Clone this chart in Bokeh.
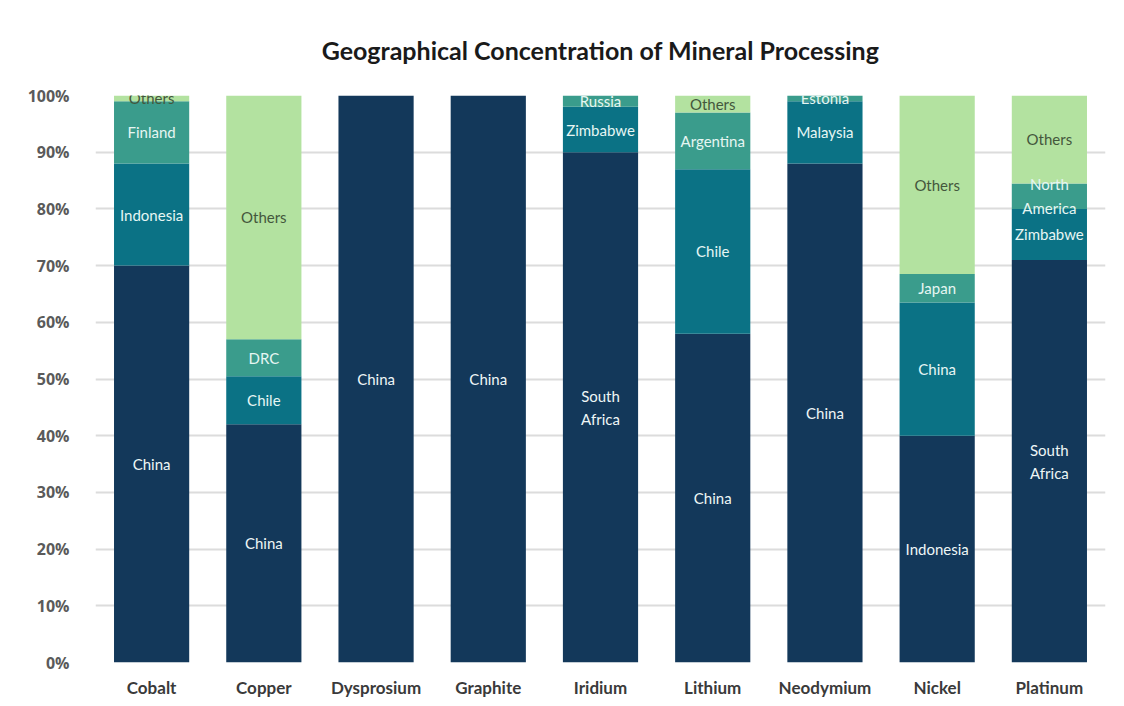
from bokeh.plotting import figure
from bokeh.models import ColumnDataSource, FactorRange, Range1d, SingleIntervalTicker, PrintfTickFormatter
from bokeh.core.properties import value
from bokeh.embed import file_html
from bokeh.resources import INLINE

minerals = ["Cobalt", "Copper", "Dysprosium", "Graphite", "Iridium",
            "Lithium", "Neodymium", "Nickel", "Platinum"]

level1_names = ["China", "China", "China", "China", "South\nAfrica", "China", "China", "Indonesia", "South\nAfrica"]
level1_vals = [70, 42, 100, 100, 90, 58, 88, 40, 71]

level2_names = ["Indonesia", "Chile", "", "", "Zimbabwe", "Chile", "Malaysia", "China", "Zimbabwe"]
level2_vals = [18, 8.5, 0, 0, 8, 29, 11, 23.5, 9]

level3_names = ["Finland", "DRC", "", "", "Russia", "Argentina", "Estonia", "Japan", "North\nAmerica"]
level3_vals = [11, 6.5, 0, 0, 2, 10, 1, 5, 4.5]

level4_names = ["Others", "Others", "", "", "", "Others", "", "Others", "Others"]
level4_vals = [1, 43, 0, 0, 0, 3, 0, 31.5, 15.5]

levels = ["l1", "l2", "l3", "l4"]
colors = ["#13385a", "#0b7285", "#3a9c8c", "#b3e2a0"]
text_colors = ["#eef6f6", "#e6f6f4", "#e6f6f2", "#44573c"]

names_all = [level1_names, level2_names, level3_names, level4_names]
vals_all = [level1_vals, level2_vals, level3_vals, level4_vals]

source = ColumnDataSource(dict(mineral=minerals, l1=level1_vals, l2=level2_vals,
                               l3=level3_vals, l4=level4_vals))

p = figure(width=1124, height=706, x_range=FactorRange(*minerals), y_range=Range1d(0, 100),
           output_backend="svg", toolbar_location=None,
           min_border_left=95, min_border_right=19, min_border_top=95, min_border_bottom=44)

p.title.text = "Geographical Concentration of Mineral Processing"
p.title.align = "center"
p.title.text_font = "Lato"
p.title.text_font_size = "25px"
p.title.text_font_style = "bold"
p.title.text_color = "#1a1a1a"
p.title.standoff = 62

p.vbar_stack(levels, x="mineral", width=0.67, color=colors, line_color=None, source=source)

# segment labels
for li in range(4):
    xs, ys, ts = [], [], []
    for i, m in enumerate(minerals):
        v = vals_all[li][i]
        if v <= 0 or not names_all[li][i]:
            continue
        base = sum(vals_all[k][i] for k in range(li))
        xs.append(m)
        ys.append(base + v / 2)
        ts.append(names_all[li][i])
    p.text(x=xs, y=ys, text=ts, text_align="center", text_baseline="middle",
           text_font=value("Lato"), text_font_size="15px", text_color=text_colors[li],
           text_line_height=1.3)

p.yaxis.ticker = SingleIntervalTicker(interval=10)
p.yaxis.formatter = PrintfTickFormatter(format="%d%%")
p.yaxis.axis_line_color = None
p.yaxis.major_tick_line_color = None
p.yaxis.minor_tick_line_color = None
p.yaxis.major_label_standoff = 20
p.yaxis.major_label_text_font = "Open Sans"
p.yaxis.major_label_text_font_size = "16px"
p.yaxis.major_label_text_font_style = "bold"
p.yaxis.major_label_text_color = "#5a5a5a"

p.xaxis.axis_line_color = None
p.xaxis.major_tick_line_color = None
p.xaxis.major_label_standoff = 8
p.xaxis.major_label_text_font = "Lato"
p.xaxis.major_label_text_font_size = "17px"
p.xaxis.major_label_text_font_style = "bold"
p.xaxis.major_label_text_color = "#3a3a3a"

p.xgrid.grid_line_color = None
p.ygrid.grid_line_color = "#dcdcdc"
p.ygrid.grid_line_width = 2
p.ygrid.level = "underlay"
p.outline_line_color = None

open("out.html", "w").write(file_html(p, INLINE))
